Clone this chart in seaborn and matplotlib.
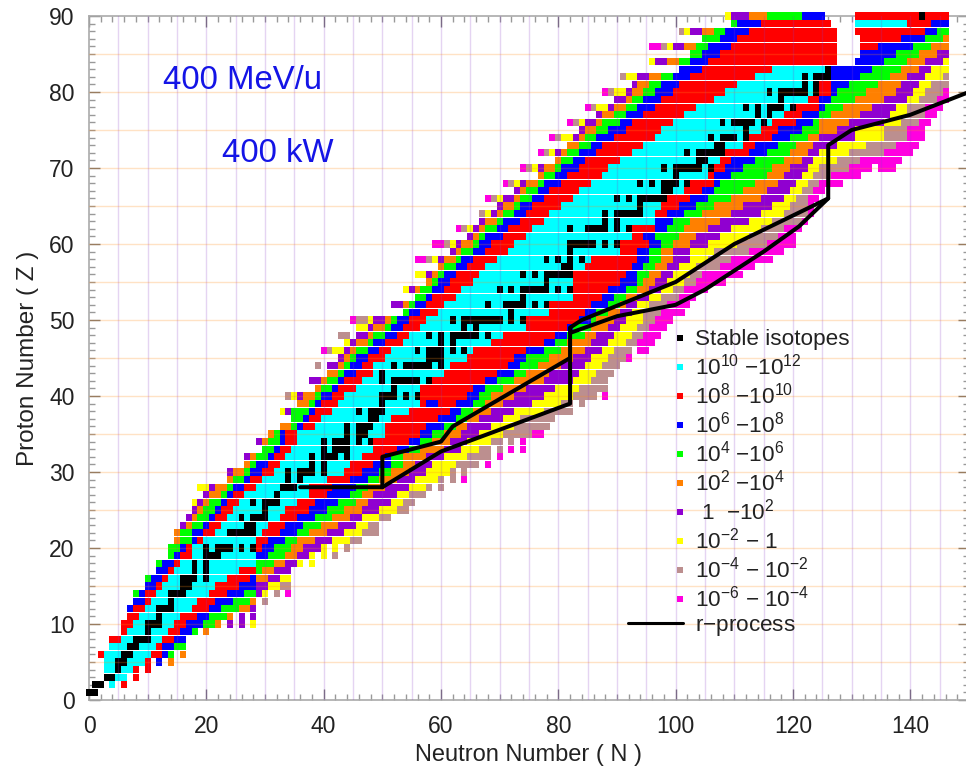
import pandas as pd
import seaborn as sns
import matplotlib.pyplot as plt
from matplotlib.legend_handler import HandlerBase
from matplotlib.lines import Line2D
from matplotlib.ticker import MultipleLocator

# Proton number of every row of the chart
z_rows = list(range(1, 91))

# First neutron number in each row
first_n = [
    0, 1, 3, 3, 3, 2, 4, 4, 6, 6,
    7, 7, 8, 8, 10, 10, 12, 12, 14, 14,
    15, 15, 16, 17, 18, 18, 20, 19, 24, 24,
    27, 27, 30, 29, 31, 33, 35, 33, 36, 34,
    39, 38, 41, 39, 43, 40, 44, 43, 46, 45,
    54, 52, 56, 54, 58, 56, 60, 56, 62, 59,
    65, 63, 67, 67, 70, 68, 73, 71, 77, 74,
    80, 77, 82, 79, 84, 82, 87, 85, 90, 88,
    93, 91, 101, 96, 103, 96, 105, 101, 110, 109,
]

# Runs along each row: band letter + number of isotopes, "_" = nothing plotted
row_runs = [
    "k2",
    "k2 _1 c1 _1 r1",
    "k2 c2 _1 r1",
    "c2 k1 c2 r1 _1 r1",
    "c2 k2 c3 r1 _1 b1 _1 o1",
    "r1 c3 k2 c3 r2 b1 g1 _1 o1",
    "c3 k2 c3 r1 b2 g2",
    "r2 c2 k3 c2 r2 b2",
    "r1 c3 k1 c3 r2 b2 g1 _1 o1",
    "r2 c2 k3 c2 r2 b3 g2 o1 _1 p1 _1 p1 _1 y1",
    "r2 c3 k1 c3 r3 b2 g3 o1 _1 p1 _1 p1",
    "b1 r2 c2 k3 c3 r3 b2 g3 o2 p1",
    "b2 r1 c3 k1 c4 r3 b3 g3 o1 _1 t1",
    "g1 b1 r2 c2 k3 c4 r3 b3 g2 p1 y1 _1 t1 _1 m1",
    "b2 r1 c3 k2 c4 r4 b3 p2 y2 t2",
    "g1 b2 r1 c2 k3 c1 k1 c3 r4 b1 o2 p2 y2",
    "b2 r1 c3 k1 c1 k1 c5 r3 g1 o2 p3",
    "g1 b2 r1 c2 k1 c1 k1 c8 g3 o2 p2 y1 _1 y1",
    "g1 b1 r2 c2 k3 c6 b2 g3 o2 p2 y1 _1 y1 _1 t1",
    "g2 b1 r1 c2 k1 c1 k3 c1 k1 c1 k1 r1 b2 g3 o2 p3 y1 _1 y1 _1 t1",
    "o1 g2 b1 r1 c9 r2 b3 g2 o3 p3 y3 t2",
    "o1 g2 b2 r2 c2 k5 c1 r3 b3 g2 o3 p3 y3 t3",
    "p1 o1 g2 b1 r2 c4 k2 c2 r3 b3 g3 o3 p3 y2 t2",
    "p1 o1 g2 b1 r2 c2 k1 c1 k3 c2 r3 b3 g3 o3 p2 y3 t2",
    "p1 o1 g2 b1 r2 c5 k1 c3 r4 b3 g3 o3 p3 y3 t2",
    "y1 p1 o1 g2 b1 r2 c2 k1 c1 k3 c3 r3 b4 g3 o2 p4 y2 t2",
    "p1 o2 g1 b1 r2 c5 k1 c5 r3 b4 g2 o2 p4 y2 t3",
    "y2 p1 o2 g1 b2 r2 c4 k3 c2 r4 b4 g2 o3 p4 y3 t1 _1 t1",
    "o1 g2 b1 r2 c4 k1 c1 k1 c4 r4 b3 g2 o3 p3 y4 t1 _1 t1 _1 m1",
    "p1 o2 g1 b2 r2 c2 k1 c1 k3 c1 k1 c3 r3 b3 g2 o3 p3 y4 t1 _1 t1",
    "o1 g1 b2 r2 c5 k1 c1 k1 c4 r4 b3 g2 o2 p3 y4 t4 _1 m1",
    "p1 o1 g2 b1 r2 c4 k1 c1 k3 c1 k1 c2 r4 b1 g2 o4 p3 y4 t4 _1 m1",
    "g2 b1 r2 c5 k1 c1 k3 c4 r4 b2 g2 o4 p3 y3 t2 _1 t1 _1 m1 _1 m1",
    "p1 o1 g2 b1 r2 c4 k1 c1 k3 c1 k1 c1 k1 r6 b2 g2 o3 p3 y4 t2 _1 t1 _1 m1",
    "o1 g1 b1 r2 c8 k1 c1 k2 c3 r6 b2 g2 o3 p3 y4 t5 m2",
    "o2 g1 b1 r2 c5 k1 c1 k3 c2 r7 b3 g2 o2 p4 y4 t6",
    "g2 b1 r2 c8 k2 c2 r8 b3 g2 o2 p4 y3 t6",
    "y1 p1 g3 b1 r3 c4 k1 c1 k3 c4 r7 b2 g2 o3 p4 y5 t5",
    "o2 g1 b1 r3 c7 k1 c6 r1 b2 r3 b3 g2 o3 p5 y5 t2 _1 t1",
    "t1 y1 p1 o2 g1 b2 r2 c6 k3 c1 k1 c1 k1 r8 b2 g2 o4 p5 y5 t4 _1 m1",
    "o1 g2 b1 r3 c6 k1 c4 r9 b2 g3 o4 p5 y4 t5",
    "p2 o1 g2 b1 r3 c3 k1 c1 k5 c1 k1 r9 b2 g3 o5 p5 y3 t3",
    "o2 g1 b2 r3 c1 k1 c10 r9 b3 g2 o4 p5 y3 t3",
    "t1 _1 p2 o1 g1 b2 r2 c3 k1 c1 k5 c1 k1 c1 r10 b2 g3 o4 p4 y3 t3",
    "p1 o1 g1 b2 r3 c7 k3 c4 r8 b2 g4 o4 p3 y3 t3 m1",
    "m1 t1 y2 p1 o1 g2 b2 r2 c4 k1 c1 k3 c1 k1 c1 k1 c1 r9 b3 g3 o4 p3 y2 t3 _1 m2",
    "y1 p1 o2 g1 b2 r3 c6 k1 c1 k1 c6 r9 b2 g2 o4 p3 y3 t2 m3",
    "t2 _1 p2 o1 g2 b2 r2 c3 k1 c1 k1 c1 k5 c1 k1 c2 r9 b2 g3 o2 p3 y3 t2 m3",
    "y2 p1 o2 g1 b2 r3 c7 k1 c1 k1 c8 r7 b1 g3 o3 p2 y3 t2 m3",
    "m1 t2 y1 p2 o1 g1 b2 r3 c4 k1 c1 k7 c1 k1 c1 k1 r9 b2 g1 o3 p2 y3 t2 m3",
    "g1 b2 r3 c12 k1 c6 r6 b2 g2 o2 p2 y2 t3 m4",
    "p2 o1 g1 b2 r3 c7 k1 c2 k4 c1 k1 c1 k1 r7 b3 g2 o1 p2 y2 t3 m4",
    "g2 b1 r4 c11 k1 c8 r5 b2 g2 o2 p2 y2 t3 m3",
    "y1 p1 o1 g2 b2 r3 c6 k1 c1 k1 c1 k5 c1 k1 c1 k1 r6 b3 g2 o2 p2 y2 t2 m4",
    "o1 g1 b2 r4 c12 k1 c4 r8 b3 g1 o2 p2 y3 t2 m5",
    "y2 p1 o1 g1 b2 r4 c7 k1 c1 k1 c1 k5 r9 b2 g2 o2 p2 y3 t2 m7",
    "o1 g2 b2 r3 c13 k2 c2 r8 b2 g2 o2 p2 y3 t4 m6",
    "m2 t1 y1 p1 o2 g1 b2 r4 c8 k1 c1 k1 c1 k1 c1 k1 c1 r8 b2 g2 o2 p3 y3 t4 m7",
    "p1 o1 g2 b2 r4 c10 k1 c8 r3 b2 g2 o2 p3 y4 t6 m6",
    "m2 t1 y1 p1 o2 g1 b2 r4 c9 k5 c1 k1 c1 k1 r5 b2 g2 o3 p3 y5 t5 m5",
    "p1 o1 g1 b3 r4 c18 r2 b2 g4 o3 p4 y5 t5 m3",
    "m1 t1 y1 p1 o1 g2 b2 r4 c6 k1 c2 k4 c1 k1 c1 k1 r4 b2 g3 o4 p4 y5 t4 m3",
    "p1 o2 g1 b3 r4 c10 k1 c1 k1 c6 b3 g3 o5 p5 y4 t5 m1",
    "t1 y1 p1 o1 g2 b2 r4 c9 k1 c1 k5 c2 r2 b3 g3 o5 p5 y4 t4 m1",
    "p1 o2 g1 b2 r5 c13 k1 c3 r3 b3 g3 o5 p5 y3 t3 m1",
    "m1 t1 y1 p2 o1 g2 b2 r5 c7 k1 c1 k1 c1 k5 r4 b3 g4 o5 p4 y2 t2 m2",
    "p1 o1 g2 b2 r5 c14 k2 c2 r3 b2 g5 o4 p4 y2 t2 m2",
    "m1 t1 y1 p1 o2 g1 b3 r5 c8 k1 c1 k1 c1 k3 c1 k1 r4 b1 g6 o4 p3 y2 t2 m4",
    "o1 g2 b2 r6 c12 k1 c5 r1 b3 g6 o3 p3 y2 t3 m5",
    "m1 t1 y1 p1 o2 g1 b3 r5 c9 k1 c1 k5 c1 k1 r2 b3 g5 o3 p3 y2 t5 m4 _1 m3",
    "o1 g2 b2 r6 c13 k2 c2 r2 b4 g5 o3 p2 y4 t4 m7",
    "m1 t1 y1 p1 o1 g2 b3 r6 c9 k1 c1 k5 r4 b3 g4 o3 p2 y5 t6 m5",
    "o2 g2 b2 r7 c12 k2 c3 r2 b4 g3 o3 p4 y5 t5 m4",
    "m1 t1 y2 p1 o1 g2 b3 r7 c9 k1 c1 k3 c1 k1 r4 b3 g3 o2 p6 y5 t4 m3",
    "p1 o2 g2 b3 r6 c14 k1 c2 r3 b4 g3 o3 p3 y5 t4 m3",
    "m1 t1 y1 p2 o1 g3 b2 r7 c8 k1 c1 k4 c1 k1 c1 r4 b3 g1 o5 p6 y3 t3 m2",
    "p1 o2 g2 b3 r7 c12 k1 c1 k1 c2 r3 b3 g2 o5 p5 y3 t3 m2",
    "m1 t1 y2 p1 o2 g2 b3 r7 c8 k1 c1 k1 c1 k3 c1 k1 r4 b1 g3 o5 p4 y2 t3 m3",
    "p2 o1 g2 b3 r9 c11 k1 c4 r2 b2 g4 o5 p4 y2 t3 m2",
    "m1 t1 y2 p1 o2 g2 b3 r9 c7 k1 c1 k5 c1 k1 r2 b1 g5 o5 p3 y2 t3 m1",
    "p1 o2 g2 b3 r10 c11 k1 c1 k1 r2 b3 g5 o4 p3 y2 t3",
    "t1 y2 p2 o2 g2 b3 r11 c8 k1 c1 k3 b5 g5 o3 p3 y3 t1",
    "b4 r12 c9 k1 b7 g5 o3 p2 y3",
    "y1 p2 o2 g2 b3 r22 _3 b5 g4 o3 p3 y1",
    "g2 b3 r20 _4 b6 g4 o3 p2",
    "m2 t1 y1 p2 o2 g2 b4 r18 _4 r3 b6 g3 o3",
    "g3 b3 r17 _4 r7 b4 g3 o1",
    "t1 y1 p2 o2 g2 b4 r15 _3 r12 b2 g2",
    "g1 b4 r12 _4 c9 r4 b3",
    "y1 p3 o3 g6 b4 _5 r11 k1 r4",
]

# r-process path, three pieces
rp_segment = [0] * 13 + [1] * 5 + [2] * 7
rp_n = [36, 50, 60, 82, 82, 84, 100, 110, 126, 126, 130, 140, 150,
        50, 50, 60, 62, 82,
        82, 90, 100, 105, 115, 121, 126]
rp_z = [28, 28, 32.7, 39, 49, 50, 55, 60, 66, 73, 75, 77, 80,
        28, 32, 34, 36, 45,
        48.3, 50.5, 52, 54, 59, 62.3, 66]

band_letters = ["k", "c", "r", "b", "g", "o", "p", "y", "t", "m"]
band_labels = [
    "Stable isotopes",
    "$10^{10}$ $-10^{12}$",
    "$10^{8}$ $-10^{10}$",
    "$10^{6}$ $-10^{8}$",
    "$10^{4}$ $-10^{6}$",
    "$10^{2}$ $-10^{4}$",
    " 1  $-10^{2}$",
    "$10^{-2}$ $-$ 1",
    "$10^{-4}$ $-$ $10^{-2}$",
    "$10^{-6}$ $-$ $10^{-4}$",
]
band_colors = ["#000000", "#00ffff", "#ff0000", "#0000ff", "#00ff00",
               "#ff8000", "#9000d0", "#ffff00", "#bc8f8f", "#ff00e0"]


# Legend markers sit at the right end of the long handle
class RightMarkerHandler(HandlerBase):
    def create_artists(self, legend, orig_handle, xdescent, ydescent, width, height, fontsize, trans):
        marker = Line2D([width - xdescent - 2], [(height - ydescent) / 2])
        marker.update_from(orig_handle)
        marker.set_transform(trans)
        return [marker]


# Expand the runs into one table row per isotope
def expand_runs():
    records = []
    for z, start, runs in zip(z_rows, first_n, row_runs):
        n = start
        for run in runs.split():
            count = int(run[1:])
            if run[0] != "_":
                records += [(n + i, z, run[0]) for i in range(count)]
            n += count
    return pd.DataFrame(records, columns=["N", "Z", "band"])


sns.set_theme(style="ticks")
plt.rcParams["font.family"] = ["Liberation Sans", "DejaVu Sans"]
plt.rcParams["mathtext.fontset"] = "custom"
plt.rcParams["mathtext.rm"] = "Liberation Sans"
plt.rcParams["mathtext.default"] = "regular"

fig = plt.figure(figsize=(9.66, 7.71), dpi=100)
ax = fig.add_axes([89 / 966, 71 / 771, 880 / 966, 684 / 771])

# Each isotope is a box a bit taller than wide, thin gap between rows
cell_marker = [(-0.42, -0.5), (0.42, -0.5), (0.42, 0.5), (-0.42, 0.5)]
sns.scatterplot(
    data=expand_runs(),
    x="N",
    y="Z",
    hue="band",
    palette=dict(zip(band_letters, band_colors)),
    marker=cell_marker,
    s=27,
    linewidth=0,
    clip_on=False,
    legend=False,
    zorder=3,
    ax=ax,
)

rp_df = pd.DataFrame({"N": rp_n, "Z": rp_z, "segment": rp_segment})
sns.lineplot(
    data=rp_df,
    x="N",
    y="Z",
    units="segment",
    estimator=None,
    sort=False,
    color="black",
    linewidth=2.9,
    zorder=6,
    ax=ax,
)

ax.set_xlim(0, 150)
ax.set_ylim(0, 90)

# Light grid on top of the cells
for x in range(5, 150, 5):
    ax.axvline(x, color="#8a3fc8", alpha=0.22, linewidth=1.0, zorder=5)
for y in range(5, 90, 5):
    ax.axhline(y, color="#ff8c1a", alpha=0.25, linewidth=1.0, zorder=5)

ax.set_xticks(range(0, 141, 20))
ax.yaxis.set_major_locator(MultipleLocator(10))
ax.xaxis.set_minor_locator(MultipleLocator(2))
ax.yaxis.set_minor_locator(MultipleLocator(1))
ax.tick_params(which="both", direction="in", top=True, right=True, color="#777777", width=1)
ax.tick_params(which="major", length=8, labelsize=16.5, labelcolor="#222222")
ax.tick_params(axis="x", which="major", pad=11)
ax.tick_params(axis="y", which="major", pad=10.5)
ax.tick_params(which="minor", length=4, color="#999999")
for spine in ax.spines.values():
    spine.set_color("#aaaaaa")
    spine.set_linewidth(1.2)

ax.set_xlabel("Neutron Number ( N )", fontsize=17, color="#222222", va="center")
ax.set_ylabel("Proton Number ( Z )", fontsize=17.5, color="#222222", va="center")
ax.xaxis.set_label_coords(0.499, -0.0805)
ax.yaxis.set_label_coords(-0.0695, 0.5)

ax.text(12.6, 81.55, "400 MeV/u", fontsize=23.7, color="#1414e6", va="center", zorder=7)
ax.text(22.6, 71.85, "400 kW", fontsize=23.7, color="#1414e6", va="center", zorder=7)

handles = [
    Line2D([], [], linestyle="none", marker="s", markersize=4.6, markeredgewidth=0, color=c)
    for c in band_colors
]
line_handle = Line2D([], [], color="black", linewidth=2.2)
marker_handler = RightMarkerHandler()
ax.legend(
    handles + [line_handle],
    band_labels + ["r$-$process"],
    handler_map={h: marker_handler for h in handles},
    loc="upper left",
    bbox_to_anchor=(91.8, 48.75),
    bbox_transform=ax.transData,
    frameon=False,
    fontsize=16.2,
    labelcolor="#222222",
    handlelength=2.45,
    handletextpad=0.54,
    labelspacing=0.14,
    borderpad=0,
    borderaxespad=0,
)

fig.savefig("out.png", dpi=100)
